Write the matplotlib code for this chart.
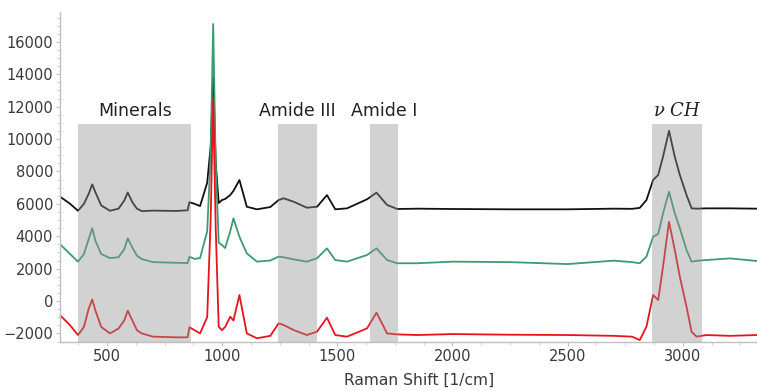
import numpy as np
import matplotlib.pyplot as plt
from matplotlib.ticker import MultipleLocator

plt.rcParams['mathtext.fontset'] = 'dejavuserif'

# Raman shift points
shift = [300, 340, 374, 400, 420, 436, 450, 475, 513, 550, 575, 590, 610, 630, 651,
         700, 800, 850, 858, 880, 904, 935, 950, 961, 972, 985, 999, 1013, 1035, 1049,
         1075, 1107, 1151, 1209, 1245, 1267, 1310, 1368, 1412, 1455, 1491, 1542, 1629,
         1670, 1716, 1760, 1847, 2000, 2250, 2500, 2700, 2780, 2813, 2842, 2871, 2893,
         2914, 2940, 2965, 2987, 3016, 3038, 3060, 3103, 3204, 3322]

black = [6400, 6000, 5570, 6000, 6600, 7200, 6700, 5900, 5570, 5700, 6200, 6700, 6100, 5700, 5550,
         5580, 5560, 5600, 6100, 6000, 5860, 7300, 9500, 13800, 8500, 6050, 6230, 6300, 6540, 6800,
         7470, 5820, 5660, 5800, 6230, 6340, 6130, 5760, 5820, 6540, 5660, 5720, 6280,
         6690, 5930, 5680, 5700, 5680, 5660, 5660, 5700, 5690, 5750, 6230, 7470, 7780,
         8910, 10510, 8910, 7780, 6540, 5720, 5700, 5720, 5720, 5700]

green = [3450, 2900, 2430, 2900, 3800, 4490, 3700, 2900, 2650, 2700, 3200, 3870, 3300, 2800, 2590,
         2400, 2360, 2340, 2730, 2600, 2650, 4300, 9000, 17100, 8500, 3600, 3460, 3270, 4300, 5100,
         3970, 2940, 2430, 2500, 2740, 2700, 2570, 2430, 2640, 3250, 2530, 2430, 2840,
         3250, 2530, 2330, 2330, 2430, 2400, 2280, 2490, 2400, 2330, 2740, 3970, 4140,
         5410, 6750, 5410, 4490, 3150, 2430, 2480, 2530, 2630, 2470]

red = [-930, -1500, -2100, -1600, -500, 100, -600, -1600, -2000, -1700, -1200, -600, -1200, -1800, -2000,
       -2200, -2240, -2240, -1620, -1800, -2000, -1000, 5000, 12500, 4500, -1580, -1800, -1600, -970, -1200,
       370, -2000, -2300, -2150, -1380, -1480, -1790, -2100, -1890, -1030, -2100, -2200, -1690,
       -720, -2000, -2060, -2100, -2040, -2080, -2100, -2150, -2200, -2410, -1590, 370, 60,
       2120, 4890, 3150, 1500, -350, -1900, -2200, -2100, -2150, -2100]

# shaded bands: (start, end, label)
band_start = [375, 1243, 1640, 2865]
band_end = [865, 1412, 1765, 3085]
band_label = ["Minerals", "Amide III", "Amide I", r"$\nu\ CH$"]
band_top = 10900

fig = plt.figure(figsize=(7.57, 3.91), dpi=100)
ax = fig.add_axes([60/757, 49/391, 697/757, 330/391])

ax.plot(shift, black, color='#111111', lw=1.3, zorder=2)
ax.plot(shift, green, color='#3c9c6e', lw=1.3, zorder=2)
ax.plot(shift, red, color='#e8141c', lw=1.3, zorder=2)

ymin, ymax = -2530, 17840
for x0, x1, lab in zip(band_start, band_end, band_label):
    ax.fill_between([x0, x1], ymin, band_top, color='#929292', alpha=0.41,
                    lw=0, zorder=3)
    if lab.startswith('$'):
        ax.text((x0 + x1) / 2, 11750, lab, ha='center', va='center',
                fontsize=13, color='#222222')
    else:
        ax.text((x0 + x1) / 2, 11750, lab, ha='center', va='center',
                fontsize=12.5, color='#222222')

ax.set_xlim(296, 3322)
ax.set_ylim(ymin, ymax)

ax.xaxis.set_major_locator(MultipleLocator(500))
ax.xaxis.set_minor_locator(MultipleLocator(125))
ax.yaxis.set_major_locator(MultipleLocator(2000))
ax.yaxis.set_minor_locator(MultipleLocator(500))

for s in ['top', 'right']:
    ax.spines[s].set_visible(False)
for s in ['left', 'bottom']:
    ax.spines[s].set_color('#c0c0c0')
    ax.spines[s].set_linewidth(1.0)

ax.tick_params(axis='both', which='major', length=3, color='#c0c0c0',
               labelsize=10.5, labelcolor='#3a3a3a', pad=2)
ax.tick_params(axis='both', which='minor', length=2, color='#c8c8c8')

ax.set_xlabel("Raman Shift [1/cm]", fontsize=11.2, color='#3a3a3a')
ax.xaxis.set_label_coords(0.515, -0.093)

fig.savefig("out.png", dpi=100)
